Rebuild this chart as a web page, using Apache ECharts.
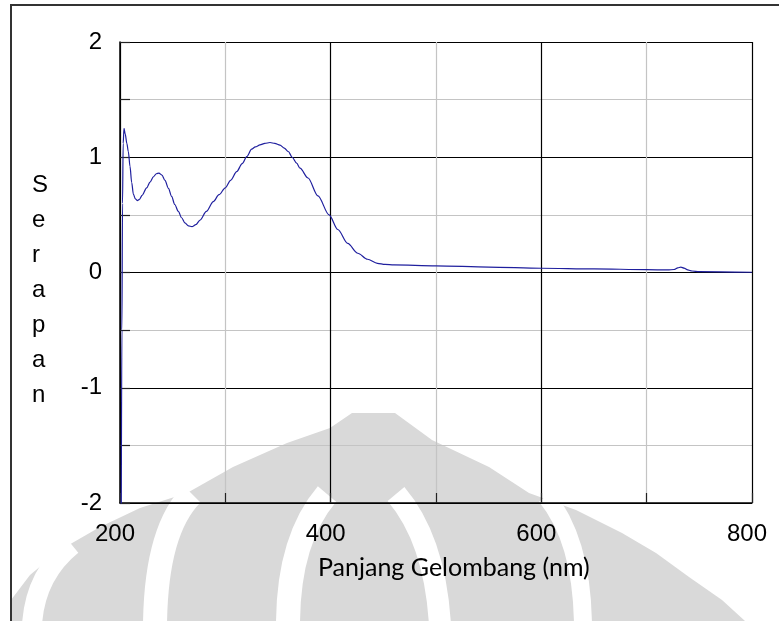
<!DOCTYPE html>
<html>
<head>
<meta charset="utf-8">
<script src="https://cdn.jsdelivr.net/npm/echarts@6/dist/echarts.min.js"></script>
<style>
  html, body { margin: 0; padding: 0; background: #fff; }
  #chart { width: 779px; height: 621px; }
</style>
</head>
<body>
<div id="chart"></div>
<script>
// UV-Vis absorption spectrum
const wavelength = [201.2, 201.8, 202.4, 203.0, 203.8, 205.0, 206.5, 207.9, 209.5, 211.1, 212.7, 214.5,
  216.4, 218.5, 221, 225.3, 228.5, 231.7, 234.5, 237, 239.8, 242.7, 246, 249, 252, 255.4, 258.5,
  261.6, 265, 268.3, 272, 276, 282, 288.6, 294, 300, 305, 310.8, 316, 320.3, 325, 328.5, 332.9,
  337.5, 342.4, 347, 351.9, 356, 359.8, 363.5, 367.7, 370.9, 378.5, 387.9, 398.5, 406.8, 416.2,
  425.7, 435, 444.4, 451.6, 460, 500, 550, 600, 650, 700, 720, 726, 729.5, 732.5, 735.5, 739,
  743, 750, 800];
const absorbance = [-2.05, -0.5, 0.6, 1.12, 1.25, 1.2, 1.12, 1.05, 0.92, 0.78, 0.68, 0.64,
  0.624, 0.635, 0.67, 0.735, 0.785, 0.83, 0.857, 0.862, 0.845, 0.8, 0.73, 0.66, 0.59, 0.53, 0.475,
  0.43, 0.405, 0.398, 0.415, 0.455, 0.53, 0.615, 0.675, 0.735, 0.8, 0.875, 0.945, 1.005, 1.07, 1.09, 1.107,
  1.12, 1.128, 1.12, 1.105, 1.08, 1.05, 1.0, 0.949, 0.905, 0.82, 0.665, 0.5, 0.373, 0.252,
  0.167, 0.115, 0.08, 0.07, 0.066, 0.058, 0.047, 0.037, 0.031, 0.025, 0.022, 0.026, 0.04, 0.047, 0.038, 0.022,
  0.013, 0.008, 0.002];

const xLabelTicks = [200, 400, 600, 800];
const yLabelTicks = [-2, -1, 0, 1, 2];
const xTitle = 'Panjang Gelombang (nm)';
const yTitle = 'Serapan';

const chart = echarts.init(document.getElementById('chart'), null, { renderer: 'canvas' });

const GRAY = '#d9d9d9';
const labelFont = 'Liberation Sans, Arial, sans-serif';

// background emblem (watermark): grey dome cut by white curved bands
function band(x1, y1, cx, cy, x2, y2, w) {
  return { type: 'bezierCurve', z: -4, silent: true,
    shape: { x1: x1, y1: y1, cpx1: cx, cpy1: cy, x2: x2, y2: y2 },
    style: { fill: null, stroke: '#fff', lineWidth: w } };
}
const watermark = [
  { type: 'polygon', z: -5, silent: true,
    shape: { points: [[11, 600], [30, 575], [60, 550], [100, 527], [140, 508], [187, 493], [233, 467],
      [287, 443], [330, 428], [352, 413], [395, 413], [432, 440], [489, 467], [529, 493], [576, 510],
      [622, 533], [656, 553], [689, 577], [722, 600], [745, 621], [11, 621]] },
    style: { fill: GRAY } },
  band(72, 545, 35, 575, 32, 625, 20),
  band(192, 494, 156, 530, 155, 625, 24),
  band(327, 494, 288, 540, 288, 625, 24),
  band(396, 494, 435, 540, 440, 625, 22),
  band(546, 496, 582, 540, 583, 625, 18)
];

const option = {
  backgroundColor: '#fff',
  animation: false,
  grid: { left: 120, top: 42, width: 632, height: 461, containLabel: false },
  xAxis: {
    type: 'value', min: 200, max: 800, interval: 100,
    axisLine: { show: true, onZero: false, lineStyle: { color: '#000', width: 1.5 } },
    axisTick: { show: true, inside: true, length: 10, lineStyle: { color: '#222', width: 1.2 } },
    axisLabel: {
      formatter: v => (xLabelTicks.includes(v) ? String(v) : ''),
      fontSize: 24, color: '#000', fontFamily: labelFont, margin: 19,
      padding: [0, 10, 0, 0], showMinLabel: true, showMaxLabel: true
    },
    splitLine: { show: true, lineStyle: { color: ['#000', '#c4c4c4'], width: 1.2 } }
  },
  yAxis: {
    type: 'value', min: -2, max: 2, interval: 0.5,
    axisLine: { show: true, onZero: false, lineStyle: { color: '#000', width: 1.5 } },
    axisTick: { show: true, inside: true, length: 10, lineStyle: { color: '#222', width: 1.2 } },
    axisLabel: {
      formatter: v => (yLabelTicks.includes(v) ? String(v) : ''),
      fontSize: 24, color: '#000', fontFamily: labelFont, margin: 18,
      padding: [6, 0, 0, 0], showMinLabel: true, showMaxLabel: true
    },
    splitLine: { show: true, lineStyle: { color: ['#000', '#c4c4c4'], width: 1.2 } }
  },
  graphic: watermark.concat([
    { type: 'rect', z: 10, silent: true,
      shape: { x: 11, y: 5, width: 820, height: 700 },
      style: { fill: null, stroke: '#333', lineWidth: 2 } },
    { type: 'text', z: 10, left: 32, top: 168, silent: true,
      style: { text: yTitle.split('').join('\n'), font: '24px ' + labelFont, fill: '#000',
        lineHeight: 35, align: 'center' } },
    { type: 'text', z: 10, left: 318, top: 555, silent: true,
      style: { text: xTitle, font: '25px Lato, "Open Sans", sans-serif', fill: '#000' } }
  ]),
  series: [{
    type: 'line',
    data: wavelength.map((w, i) => [w, absorbance[i]]),
    showSymbol: false,
    smooth: 0.3,
    smoothMonotone: 'x',
    clip: true,
    lineStyle: { color: '#1f1f9e', width: 1.2 },
    z: 5
  }]
};

chart.setOption(option);
</script>
</body>
</html>
